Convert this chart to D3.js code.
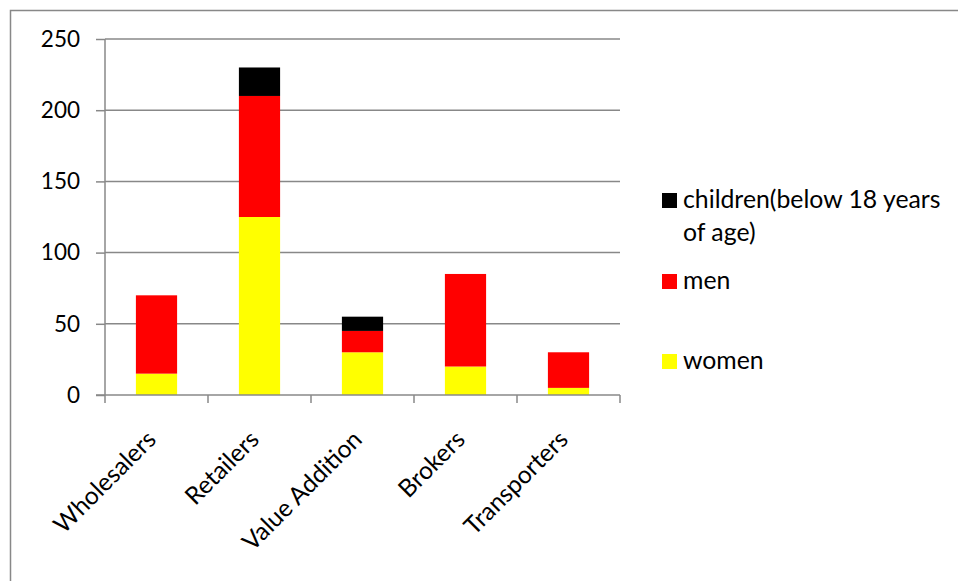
<!DOCTYPE html>
<html>
<head>
<meta charset="utf-8">
<script src="https://cdn.jsdelivr.net/npm/d3@7"></script>
<style>
  body { margin: 0; background: #fff; }
  svg text { font-family: Lato, "Liberation Sans", sans-serif; fill: #000; }
</style>
</head>
<body>
<div id="container"><svg></svg></div>
<script>
let width = 958
let height = 581

let categories = ['Wholesalers', 'Retailers', 'Value Addition', 'Brokers', 'Transporters']
let women = [15, 125, 30, 20, 5]
let men = [55, 85, 15, 65, 25]
let children = [0, 20, 10, 0, 0]
let y_ticks = [0, 50, 100, 150, 200, 250]

let series_keys = ['women', 'men', 'children']
let colors = { women: '#ffff00', men: '#ff0000', children: '#000000' }

let table = categories.map((c, i) => ({ cat: c, women: women[i], men: men[i], children: children[i] }))

function draw_main() {
    let padding = { left: 105, right: 338, top: 39, bottom: 186 }
    let svg = d3.select('#container').select('svg')
        .attr('width', width)
        .attr('height', height)

    // outer frame (right and bottom edges run off the picture)
    svg.append('rect')
        .attr('x', 10.5).attr('y', 10.5)
        .attr('width', 1000).attr('height', 620)
        .attr('fill', 'none')
        .attr('stroke', '#888')
        .attr('stroke-width', 1.5)

    let x = d3.scaleBand()
        .domain(categories)
        .range([padding.left, width - padding.right])
        .paddingInner(0.6)
        .paddingOuter(0.3)

    let y = d3.scaleLinear()
        .domain([0, 250])
        .range([height - padding.bottom, padding.top])

    // gridlines
    svg.append('g')
        .selectAll('line')
        .data(y_ticks.filter(d => d > 0))
        .enter().append('line')
        .attr('x1', padding.left).attr('x2', width - padding.right)
        .attr('y1', d => y(d)).attr('y2', d => y(d))
        .attr('stroke', '#888')
        .attr('stroke-width', 1.5)

    // stacked bars
    let stack = d3.stack().keys(series_keys)(table)
    svg.append('g')
        .selectAll('g')
        .data(stack)
        .enter().append('g')
        .attr('fill', d => colors[d.key])
        .selectAll('rect')
        .data(d => d)
        .enter().append('rect')
        .attr('x', d => x(d.data.cat))
        .attr('width', x.bandwidth())
        .attr('y', d => y(d[1]))
        .attr('height', d => y(d[0]) - y(d[1]))

    // y axis
    let axis_y = d3.axisLeft(y).tickValues(y_ticks).tickSize(9).tickPadding(16)
    let gy = svg.append('g')
        .attr('transform', `translate(${padding.left}, 0)`)
        .call(axis_y)
    gy.selectAll('text').attr('font-size', '22.5px').attr('font-family', null)
    gy.selectAll('line, path').attr('stroke', '#888').attr('stroke-width', 1.5)
    gy.select('.domain').attr('d', `M0,${y(0)}V${y(250)}`)

    // x axis with ticks at band boundaries
    let step = (width - padding.right - padding.left) / categories.length
    let gx = svg.append('g')
    gx.append('line')
        .attr('x1', padding.left - 9).attr('x2', width - padding.right)
        .attr('y1', y(0)).attr('y2', y(0))
        .attr('stroke', '#888').attr('stroke-width', 1.5)
    gx.selectAll('.tick')
        .data(d3.range(categories.length + 1))
        .enter().append('line')
        .attr('x1', d => padding.left + d * step).attr('x2', d => padding.left + d * step)
        .attr('y1', y(0)).attr('y2', y(0) + 8)
        .attr('stroke', '#888').attr('stroke-width', 1.5)

    gx.selectAll('text')
        .data(categories)
        .enter().append('text')
        .attr('transform', d => `translate(${x(d) + x.bandwidth() / 2 + 1}, ${y(0) + 46}) rotate(-45)`)
        .attr('text-anchor', 'end')
        .attr('font-size', '24.5px')
        .text(d => d)

    // legend
    let legend_items = [
        { key: 'children', lines: ['children(below 18 years', 'of age)'], y: 193 },
        { key: 'men', lines: ['men'], y: 274 },
        { key: 'women', lines: ['women'], y: 354 }
    ]
    let lg = svg.append('g')
    legend_items.forEach(item => {
        lg.append('rect')
            .attr('x', 662).attr('y', item.y)
            .attr('width', 15).attr('height', 15)
            .attr('fill', colors[item.key])
        let t = lg.append('text')
            .attr('x', 683).attr('y', item.y + 15)
            .attr('font-size', '24.8px')
        item.lines.forEach((l, i) => {
            t.append('tspan').attr('x', 683).attr('dy', i == 0 ? 0 : 33).text(l)
        })
    })
}

draw_main()
</script>
</body>
</html>
